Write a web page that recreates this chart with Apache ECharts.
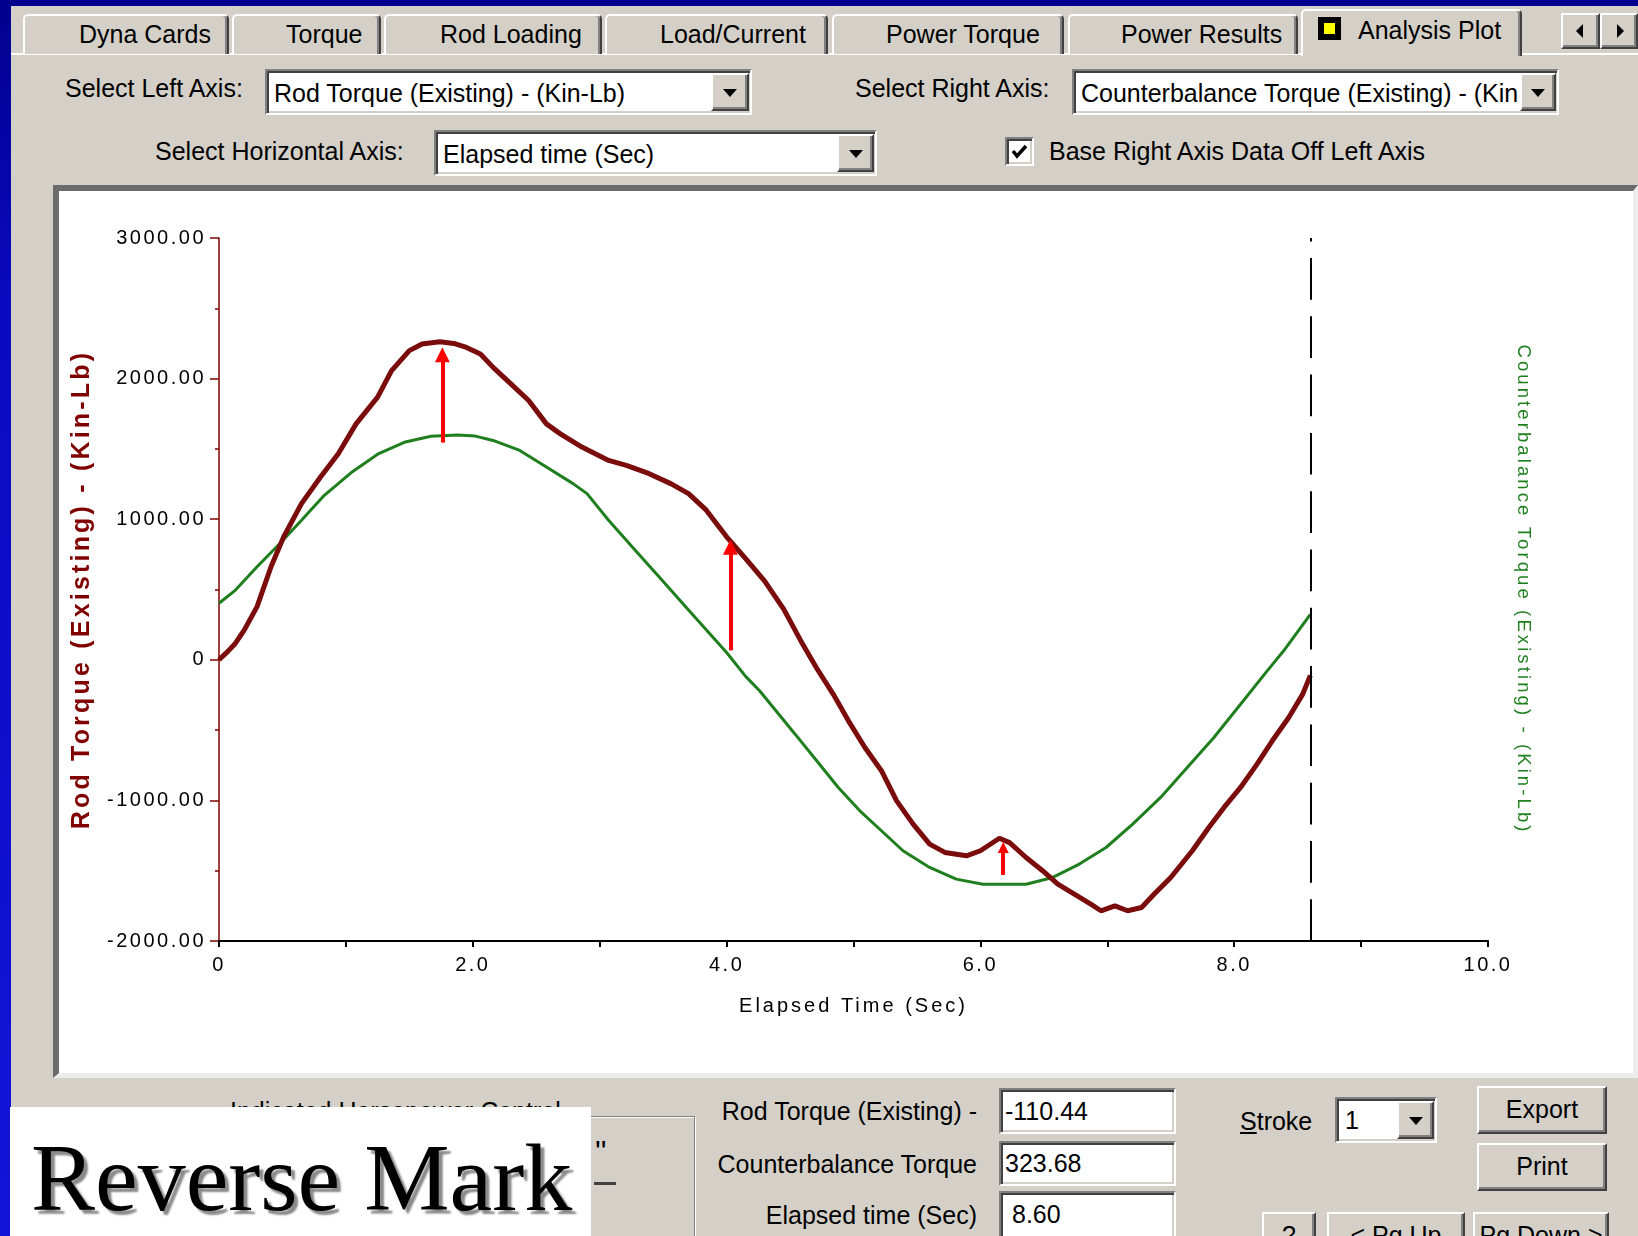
<!DOCTYPE html>
<html>
<head>
<meta charset="utf-8">
<script src="https://cdn.jsdelivr.net/npm/echarts@6/dist/echarts.min.js"></script>
<style>
html,body{margin:0;padding:0;width:1638px;height:1236px;overflow:hidden;}
body{position:relative;background:linear-gradient(#00008e 0px,#0a0ac0 300px,#1414d8 1236px);font-family:'Liberation Sans',Arial,sans-serif;}
.a{position:absolute;box-sizing:border-box;}
.t{position:absolute;font-size:25px;line-height:30px;color:#000;white-space:nowrap;}
#win{left:11px;top:6px;width:1627px;height:1230px;background:#d4d0c8;}
.tab{background:#d4d0c8;border-top:2px solid #fff;border-left:2px solid #fff;border-right:2px solid #404040;box-shadow:inset -2px 0 0 #808080;border-radius:5px 5px 0 0;}
.sunk{background:#fff;border:2px solid;border-color:#808080 #fff #fff #808080;box-shadow:inset 2px 2px 0 #404040,inset -2px -2px 0 #d4d0c8;}
.rais{background:#d4d0c8;border:2px solid;border-color:#fff #404040 #404040 #fff;box-shadow:inset -2px -2px 0 #808080;}
.dd::after{content:"";position:absolute;left:50%;top:50%;margin-left:-7px;margin-top:-3px;border-left:7px solid transparent;border-right:7px solid transparent;border-top:8px solid #000;}
#chart{position:absolute;left:0;top:0;width:1638px;height:1236px;z-index:5;pointer-events:none;}
</style>
</head>
<body>
<div id="win" class="a"></div>

<!-- tabs -->
<div class="a" style="left:11px;top:53px;width:1627px;height:2px;background:#fff;"></div>
<div class="a tab" style="left:23px;top:14px;width:206px;height:40px;"></div>
<div class="a tab" style="left:232px;top:14px;width:149px;height:40px;"></div>
<div class="a tab" style="left:384px;top:14px;width:218px;height:40px;"></div>
<div class="a tab" style="left:605px;top:14px;width:223px;height:40px;"></div>
<div class="a tab" style="left:832px;top:14px;width:232px;height:40px;"></div>
<div class="a tab" style="left:1068px;top:14px;width:230px;height:40px;"></div>
<div class="a tab" style="left:1301px;top:9px;width:221px;height:47px;"></div>
<div class="t" style="left:79px;top:19px;">Dyna Cards</div>
<div class="t" style="left:286px;top:19px;">Torque</div>
<div class="t" style="left:440px;top:19px;">Rod Loading</div>
<div class="t" style="left:660px;top:19px;">Load/Current</div>
<div class="t" style="left:886px;top:19px;">Power Torque</div>
<div class="t" style="left:1121px;top:19px;">Power Results</div>
<div class="a" style="left:1318px;top:17px;width:23px;height:23px;background:#ffff00;border:6px solid #000;"></div>
<div class="t" style="left:1358px;top:15px;">Analysis Plot</div>
<div class="a rais" style="left:1561px;top:13px;width:39px;height:36px;"></div>
<div class="a rais" style="left:1600px;top:13px;width:38px;height:36px;"></div>
<div class="a" style="left:1576px;top:24px;width:0;height:0;border-top:7px solid transparent;border-bottom:7px solid transparent;border-right:7px solid #000;"></div>
<div class="a" style="left:1617px;top:24px;width:0;height:0;border-top:7px solid transparent;border-bottom:7px solid transparent;border-left:7px solid #000;"></div>

<!-- selectors -->
<div class="t" style="left:65px;top:73px;">Select Left Axis:</div>
<div class="a sunk" style="left:265px;top:69px;width:487px;height:46px;"></div>
<div class="t" style="left:274px;top:78px;">Rod Torque (Existing) - (Kin-Lb)</div>
<div class="a rais dd" style="left:711px;top:73px;width:38px;height:38px;"></div>

<div class="t" style="left:855px;top:73px;">Select Right Axis:</div>
<div class="a sunk" style="left:1072px;top:69px;width:487px;height:46px;"></div>
<div class="t" style="left:1081px;top:78px;width:438px;overflow:hidden;">Counterbalance Torque (Existing) - (Kin-Lb)</div>
<div class="a rais dd" style="left:1520px;top:73px;width:36px;height:38px;"></div>

<div class="t" style="left:155px;top:136px;">Select Horizontal Axis:</div>
<div class="a sunk" style="left:434px;top:130px;width:443px;height:46px;"></div>
<div class="t" style="left:443px;top:139px;">Elapsed time (Sec)</div>
<div class="a rais dd" style="left:837px;top:134px;width:37px;height:38px;"></div>

<div class="a sunk" style="left:1005px;top:137px;width:29px;height:29px;"></div>
<svg class="a" style="left:1005px;top:137px;" width="29" height="29"><polyline points="8,14 12,19 21,9" fill="none" stroke="#000" stroke-width="3.5"/></svg>
<div class="t" style="left:1049px;top:136px;">Base Right Axis Data Off Left Axis</div>

<!-- plot panel -->
<div class="a" style="left:53px;top:185px;width:1585px;height:893px;background:#fff;border-style:solid;border-width:6px 5px 5px 6px;border-color:#6b6b6b #ececec #ececec #6b6b6b;"></div>

<!-- bottom area -->
<div class="t" style="left:230px;top:1096px;color:#000;">Indicated Horsepower Control</div>
<div class="a" style="left:11px;top:1116px;width:684px;height:130px;border-top:1px solid #808080;border-right:1px solid #808080;box-shadow:1px 1px 0 #fff inset, 1px 1px 0 #fff;"></div>
<div class="t" style="left:595px;top:1136px;font-size:30px;">''</div>
<div class="a" style="left:594px;top:1182px;width:22px;height:3px;background:#404040;"></div>
<div class="a" style="left:10px;top:1107px;width:581px;height:129px;background:#fff;"></div>
<div class="a" style="left:31px;top:1118px;font-family:'Liberation Serif','Times New Roman',serif;font-size:96px;line-height:120px;color:#000;white-space:nowrap;text-shadow:4px 4px 2px #8a8a8a;">Reverse Mark</div>

<div class="t" style="left:600px;top:1096px;width:377px;text-align:right;">Rod Torque (Existing) -</div>
<div class="a sunk" style="left:999px;top:1088px;width:177px;height:46px;"></div>
<div class="t" style="left:1005px;top:1096px;">-110.44</div>
<div class="t" style="left:600px;top:1149px;width:377px;text-align:right;">Counterbalance Torque</div>
<div class="a sunk" style="left:999px;top:1141px;width:177px;height:45px;"></div>
<div class="t" style="left:1005px;top:1148px;">323.68</div>
<div class="t" style="left:600px;top:1200px;width:377px;text-align:right;">Elapsed time (Sec)</div>
<div class="a sunk" style="left:999px;top:1191px;width:177px;height:50px;"></div>
<div class="t" style="left:1012px;top:1199px;">8.60</div>

<div class="t" style="left:1240px;top:1106px;"><u>S</u>troke</div>
<div class="a sunk" style="left:1335px;top:1097px;width:102px;height:46px;"></div>
<div class="t" style="left:1345px;top:1105px;">1</div>
<div class="a rais dd" style="left:1397px;top:1101px;width:37px;height:38px;"></div>

<div class="a rais" style="left:1477px;top:1086px;width:130px;height:48px;"></div>
<div class="t" style="left:1477px;top:1094px;width:130px;text-align:center;">Export</div>
<div class="a rais" style="left:1477px;top:1143px;width:130px;height:48px;"></div>
<div class="t" style="left:1477px;top:1151px;width:130px;text-align:center;">Print</div>

<div class="a rais" style="left:1262px;top:1212px;width:54px;height:40px;"></div>
<div class="t" style="left:1262px;top:1220px;width:54px;text-align:center;">?</div>
<div class="a rais" style="left:1327px;top:1212px;width:138px;height:40px;"></div>
<div class="t" style="left:1327px;top:1220px;width:138px;text-align:center;">&lt; Pg Up</div>
<div class="a rais" style="left:1473px;top:1212px;width:136px;height:40px;"></div>
<div class="t" style="left:1473px;top:1220px;width:136px;text-align:center;">Pg Down &gt;</div>

<div id="chart"></div>

<script>
// ---- letter spacing for canvas text (font family marker "lsNpx") ----
(function () {
  var P = window.CanvasRenderingContext2D && CanvasRenderingContext2D.prototype;
  if (!P || !('letterSpacing' in P)) return;
  function apply(ctx) {
    var m = /ls(\d+(?:_\d+)?)px/.exec(ctx.font || '');
    var v = m ? m[1].replace('_', '.') + 'px' : '0px';
    if (ctx.letterSpacing !== v) ctx.letterSpacing = v;
  }
  ['fillText', 'strokeText', 'measureText'].forEach(function (k) {
    var f = P[k];
    P[k] = function () { apply(this); return f.apply(this, arguments); };
  });
})();
function fam(ls) { return "'Liberation Sans', Arial, ls" + String(ls).replace('.', '_') + 'px'; }

// ---- data ----
const rodTime = [0.00,0.07,0.13,0.20,0.30,0.41,0.51,0.65,0.80,0.94,1.08,1.25,1.36,1.50,1.60,1.74,1.85,1.95,2.06,2.16,2.30,2.44,2.58,2.69,2.86,3.07,3.21,3.39,3.56,3.70,3.84,4.00,4.15,4.30,4.45,4.60,4.71,4.84,4.96,5.09,5.22,5.34,5.47,5.60,5.72,5.89,6.00,6.15,6.23,6.36,6.49,6.61,6.74,6.87,6.95,7.06,7.16,7.27,7.37,7.50,7.67,7.80,7.92,8.05,8.18,8.30,8.43,8.54,8.60];
const rodTorque = [0,60,118,213,378,662,875,1111,1300,1466,1678,1868,2057,2199,2246,2262,2250,2222,2175,2080,1962,1844,1678,1607,1513,1418,1383,1324,1253,1182,1064,875,720,560,360,110,-60,-244,-434,-624,-789,-1003,-1169,-1311,-1370,-1394,-1358,-1269,-1300,-1406,-1500,-1596,-1666,-1738,-1785,-1750,-1785,-1762,-1666,-1548,-1358,-1193,-1050,-908,-742,-576,-410,-244,-110.44];

const cbTime = [0.00,0.13,0.30,0.48,0.65,0.83,1.04,1.25,1.46,1.67,1.88,2.02,2.16,2.37,2.58,2.79,2.90,3.07,3.28,3.49,3.70,3.91,4.00,4.15,4.26,4.54,4.71,4.88,5.05,5.22,5.39,5.60,5.81,6.02,6.36,6.57,6.78,6.99,7.20,7.42,7.63,7.84,8.05,8.26,8.39,8.60];
const cbTorque = [402,496,662,827,993,1170,1330,1462,1547,1590,1598,1591,1560,1489,1371,1253,1182,993,780,567,355,142,52,-118,-220,-529,-718,-908,-1074,-1216,-1358,-1477,-1560,-1596,-1596,-1548,-1453,-1335,-1169,-979,-766,-553,-316,-79,64,323.68];

// red "reverse mark" arrows: [time, from (counterbalance), to (rod torque)]
const reverseArrows = [[1.76, 1545, 2170], [4.03, 67, 800], [6.18, -1530, -1335]];
const cursorTime = 8.60;

const xTickLabels = ['0', '2.0', '4.0', '6.0', '8.0', '10.0'];
const yTickLabels = ['-2000.00', '-1000.00', '0', '1000.00', '2000.00', '3000.00'];

const leftTitle = 'Rod Torque (Existing) - (Kin-Lb)';
const rightTitle = 'Counterbalance Torque (Existing) - (Kin-Lb)';
const xTitle = 'Elapsed Time (Sec)';

// ---- chart ----
const chart = echarts.init(document.getElementById('chart'), null, { renderer: 'canvas' });
const rodColor = '#7a0c0c', cbColor = '#1f7f1f';

chart.setOption({
  animation: false,
  backgroundColor: 'transparent',
  grid: { left: 219, top: 238, right: 150, bottom: 295 },
  xAxis: {
    type: 'value', min: 0, max: 10, interval: 2,
    name: xTitle, nameLocation: 'middle', nameGap: 54,
    nameTextStyle: { color: '#000', fontSize: 20, fontFamily: fam(3) },
    axisLine: { onZero: false, lineStyle: { color: '#000', width: 2 } },
    axisTick: { show: true, length: 6, lineStyle: { color: '#000', width: 2 } },
    minorTick: { show: true, splitNumber: 2, length: 6, lineStyle: { color: '#000', width: 2 } },
    splitLine: { show: false },
    axisLabel: { margin: 13, color: '#000', fontSize: 20, fontFamily: fam(2.5),
      formatter: v => xTickLabels[Math.round(v / 2)] }
  },
  yAxis: [{
    type: 'value', min: -2000, max: 3000, interval: 1000, position: 'left',
    name: leftTitle, nameLocation: 'middle', nameGap: 120, nameRotate: 90,
    nameTextStyle: { color: '#800000', fontWeight: 'bold', fontSize: 25, fontFamily: fam(3.2) },
    axisLine: { show: true, onZero: false, lineStyle: { color: '#800000', width: 1.5 } },
    axisTick: { show: true, length: 9, lineStyle: { color: '#800000', width: 1.5 } },
    minorTick: { show: true, splitNumber: 2, length: 4, lineStyle: { color: '#800000', width: 1.5 } },
    splitLine: { show: false },
    axisLabel: { margin: 13, color: '#000', fontSize: 20, fontFamily: fam(2.5),
      formatter: v => yTickLabels[Math.round((v + 2000) / 1000)] }
  }, {
    type: 'value', min: -2000, max: 3000, interval: 1000, position: 'right',
    name: rightTitle, nameLocation: 'middle', nameGap: 24, nameRotate: -90,
    nameTextStyle: { color: cbColor, fontSize: 18.5, fontFamily: fam(3.1) },
    axisLine: { show: false }, axisTick: { show: false }, axisLabel: { show: false }, splitLine: { show: false }
  }],
  series: [{
    type: 'line', name: 'Counterbalance Torque (Existing)', yAxisIndex: 1,
    data: cbTime.map((t, i) => [t, cbTorque[i]]),
    symbol: 'none', lineStyle: { color: cbColor, width: 3 }, z: 2,
    markLine: {
      silent: true, symbol: 'none', label: { show: false },
      lineStyle: { color: '#000', width: 2, type: [41.7, 16.6] },
      data: [{ xAxis: cursorTime }]
    }
  }, {
    type: 'line', name: 'Rod Torque (Existing)', yAxisIndex: 0,
    data: rodTime.map((t, i) => [t, rodTorque[i]]),
    symbol: 'none', lineStyle: { color: rodColor, width: 5 }, z: 3,
    markLine: {
      silent: true, symbol: ['none', 'triangle'], label: { show: false },
      lineStyle: { color: '#ff0000', width: 4, type: 'solid' },
      emphasis: { disabled: true },
      data: reverseArrows.map(a => {
        const sz = Math.abs(a[2] - a[1]) < 300 ? 11 : 15;
        return [{ coord: [a[0], a[1]], symbolSize: 0 }, { coord: [a[0], a[2]], symbolSize: sz }];
      })
    }
  }]
});
</script>
</body>
</html>
